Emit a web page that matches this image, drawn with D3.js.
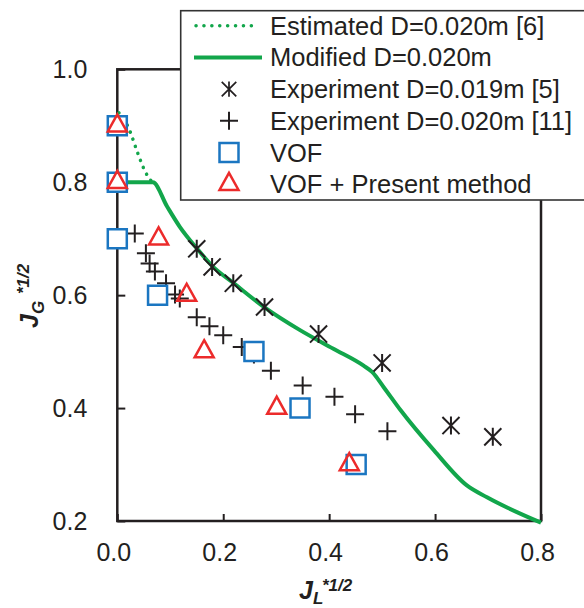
<!DOCTYPE html>
<html>
<head>
<meta charset="utf-8">
<script src="https://cdn.jsdelivr.net/npm/d3@7"></script>
<style>
  html, body { margin: 0; padding: 0; background: #fff; }
  svg { display: block; }
  text { font-family: "Liberation Sans", Arial, Helvetica, sans-serif; fill: #231f20; }
</style>
</head>
<body>
<svg id="chart" width="584" height="608"></svg>
<script>
// Axis ticks
const xTicks = [0.0, 0.2, 0.4, 0.6, 0.8];
const yTicks = [0.2, 0.4, 0.6, 0.8, 1.0];

// Estimated flooding curve, D=0.020m [6] (dotted)
const estX = [0.003, 0.020, 0.040, 0.052, 0.066];
const estY = [0.923, 0.899, 0.848, 0.820, 0.800];

// Modified flooding curve, D=0.020m (solid)
const modX = [0.000, 0.067, 0.094, 0.118, 0.150, 0.180, 0.220, 0.280, 0.345, 0.408, 0.465, 0.481, 0.503, 0.535, 0.598, 0.660, 0.698, 0.800];
const modY = [0.800, 0.800, 0.757, 0.721, 0.683, 0.651, 0.621, 0.577, 0.538, 0.505, 0.475, 0.464, 0.437, 0.396, 0.325, 0.263, 0.242, 0.197];

// Experiment D=0.019m [5]
const exp5X = [0.150, 0.179, 0.219, 0.278, 0.380, 0.500, 0.630, 0.709];
const exp5Y = [0.682, 0.650, 0.621, 0.579, 0.531, 0.480, 0.369, 0.349];

// Experiment D=0.020m [11]
const exp11X = [0.033, 0.054, 0.061, 0.071, 0.092, 0.109, 0.118, 0.150, 0.174, 0.200, 0.235, 0.258, 0.290, 0.350, 0.410, 0.449, 0.510];
const exp11Y = [0.709, 0.674, 0.656, 0.642, 0.621, 0.601, 0.594, 0.561, 0.545, 0.529, 0.508, 0.495, 0.466, 0.440, 0.420, 0.389, 0.359];

// VOF
const vofX = [0.000, 0.000, 0.000, 0.076, 0.258, 0.345, 0.451];
const vofY = [0.900, 0.800, 0.700, 0.600, 0.500, 0.400, 0.300];

// VOF + Present method
const presX = [0.000, 0.000, 0.078, 0.131, 0.164, 0.301, 0.438];
const presY = [0.900, 0.800, 0.700, 0.600, 0.500, 0.400, 0.300];

const legendLabels = [
  "Estimated D=0.020m [6]",
  "Modified D=0.020m",
  "Experiment D=0.019m [5]",
  "Experiment D=0.020m [11]",
  "VOF",
  "VOF + Present method"
];

const GREEN = "#12a64b", BLUE = "#1b76c1", RED = "#ec2b2b", INK = "#231f20";

const svg = d3.select("#chart");
const x = d3.scaleLinear().domain([0, 0.8]).range([117.3, 541]);
const y = d3.scaleLinear().domain([0.2, 1.0]).range([521, 69.3]);

const zip = (xs, ys) => xs.map((v, i) => [v, ys[i]]);

// Marker path builders (centred on 0,0)
const sq = 19, tri = 19, plusR = 9, astR = 9;
const squarePath = `M${-sq/2},${-sq/2}h${sq}v${sq}h${-sq}Z`;
const triH = tri * 0.9;
const trianglePath = `M0,${-triH*2/3}L${tri/2},${triH/3}L${-tri/2},${triH/3}Z`;
const plusPath = `M${-plusR},0H${plusR}M0,${-plusR}V${plusR}`;
const ad = astR * 0.95;
const asteriskPath = `M0,${-astR}V${astR}M${-ad},${-ad}L${ad},${ad}M${ad},${-ad}L${-ad},${ad}`;

// Axes with inward ticks
const xAxis = svg.append("g").attr("transform", `translate(0,${y(0.2)})`)
  .call(d3.axisBottom(x).tickValues(xTicks).tickFormat(d3.format(".1f")).tickSize(-7).tickPadding(22));
const yAxis = svg.append("g").attr("transform", `translate(${x(0)},0)`)
  .call(d3.axisLeft(y).tickValues(yTicks).tickFormat(d3.format(".1f")).tickSize(-8).tickPadding(30));
[xAxis, yAxis].forEach(g => {
  g.select(".domain").remove();
  g.selectAll(".tick line").attr("stroke", INK).attr("stroke-width", 2);
  g.selectAll(".tick text").attr("font-size", 25).attr("fill", INK)
    .style("font-family", '"Liberation Sans", Arial, sans-serif');
});
xAxis.selectAll(".tick text").attr("dx", -4);

// Plot frame
svg.append("rect")
  .attr("x", x(0)).attr("y", y(1.0))
  .attr("width", x(0.8) - x(0)).attr("height", y(0.2) - y(1.0))
  .attr("fill", "none").attr("stroke", INK).attr("stroke-width", 2.5);

// Curves
const line = d3.line().x(d => x(d[0])).y(d => y(d[1]));
svg.append("path").datum(zip(estX, estY))
  .attr("d", line.curve(d3.curveMonotoneX))
  .attr("fill", "none").attr("stroke", GREEN).attr("stroke-width", 3.5)
  .attr("stroke-linecap", "round").attr("stroke-dasharray", "0.1,7.4");
svg.append("path").datum(zip(modX, modY))
  .attr("d", line.curve(d3.curveMonotoneX))
  .attr("fill", "none").attr("stroke", GREEN).attr("stroke-width", 4);

// Markers
svg.append("g").selectAll("path").data(zip(exp11X, exp11Y)).join("path")
  .attr("transform", d => `translate(${x(d[0])},${y(d[1])})`)
  .attr("d", plusPath).attr("stroke", INK).attr("stroke-width", 2).attr("fill", "none");
svg.append("g").selectAll("path").data(zip(exp5X, exp5Y)).join("path")
  .attr("transform", d => `translate(${x(d[0])},${y(d[1])})`)
  .attr("d", asteriskPath).attr("stroke", INK).attr("stroke-width", 2).attr("fill", "none");
svg.append("g").selectAll("path").data(zip(vofX, vofY)).join("path")
  .attr("transform", d => `translate(${x(d[0])},${y(d[1])})`)
  .attr("d", squarePath).attr("stroke", BLUE).attr("stroke-width", 2.5).attr("fill", "#fff");
svg.append("g").selectAll("path").data(zip(presX, presY)).join("path")
  .attr("transform", d => `translate(${x(d[0])},${y(d[1])})`)
  .attr("d", trianglePath).attr("stroke", RED).attr("stroke-width", 2.5).attr("fill", "none");

// Axis titles
const xt = svg.append("text").attr("x", 299).attr("y", 599)
  .attr("font-size", 25).attr("font-weight", "bold").attr("font-style", "italic");
xt.append("tspan").text("J");
xt.append("tspan").attr("font-size", 17).attr("dy", 5).text("L");
svg.append("text").attr("x", 322).attr("y", 591)
  .attr("font-size", 17).attr("font-weight", "bold").attr("font-style", "italic").text("*1/2");

const yt = svg.append("g").attr("transform", "translate(38,328) rotate(-90)");
const ytt = yt.append("text").attr("x", 0).attr("y", 0)
  .attr("font-size", 25).attr("font-weight", "bold").attr("font-style", "italic");
ytt.append("tspan").text("J");
ytt.append("tspan").attr("font-size", 17).attr("dy", 6).text("G");
yt.append("text").attr("x", 34).attr("y", -9)
  .attr("font-size", 17).attr("font-weight", "bold").attr("font-style", "italic").text("*1/2");

// Legend
const lg = svg.append("g");
lg.append("rect").attr("x", 180.7).attr("y", 10.7).attr("width", 420).attr("height", 189.3)
  .attr("fill", "#fff").attr("stroke", "#333").attr("stroke-width", 1.6);
const rowY = i => 25.7 + i * 31.7;
const symX = 229;
lg.append("line").attr("x1", 196).attr("x2", 259).attr("y1", rowY(0)).attr("y2", rowY(0))
  .attr("stroke", GREEN).attr("stroke-width", 3.5).attr("stroke-linecap", "round").attr("stroke-dasharray", "0.1,7.8");
lg.append("line").attr("x1", 194).attr("x2", 262).attr("y1", rowY(1)).attr("y2", rowY(1))
  .attr("stroke", GREEN).attr("stroke-width", 4);
lg.append("path").attr("transform", `translate(${symX},${rowY(2)}) scale(0.85)`)
  .attr("d", asteriskPath).attr("stroke", INK).attr("stroke-width", 2).attr("fill", "none");
lg.append("path").attr("transform", `translate(${symX},${rowY(3)})`)
  .attr("d", plusPath).attr("stroke", INK).attr("stroke-width", 2).attr("fill", "none");
lg.append("path").attr("transform", `translate(${symX},${rowY(4)})`)
  .attr("d", squarePath).attr("stroke", BLUE).attr("stroke-width", 2.5).attr("fill", "#fff");
lg.append("path").attr("transform", `translate(${symX},${rowY(5)})`)
  .attr("d", trianglePath).attr("stroke", RED).attr("stroke-width", 2.5).attr("fill", "none");
lg.selectAll("text.lbl").data(legendLabels).join("text").attr("class", "lbl")
  .attr("x", 270).attr("y", (d, i) => rowY(i) + 9)
  .attr("font-size", 25.5).text(d => d);
</script>
</body>
</html>
